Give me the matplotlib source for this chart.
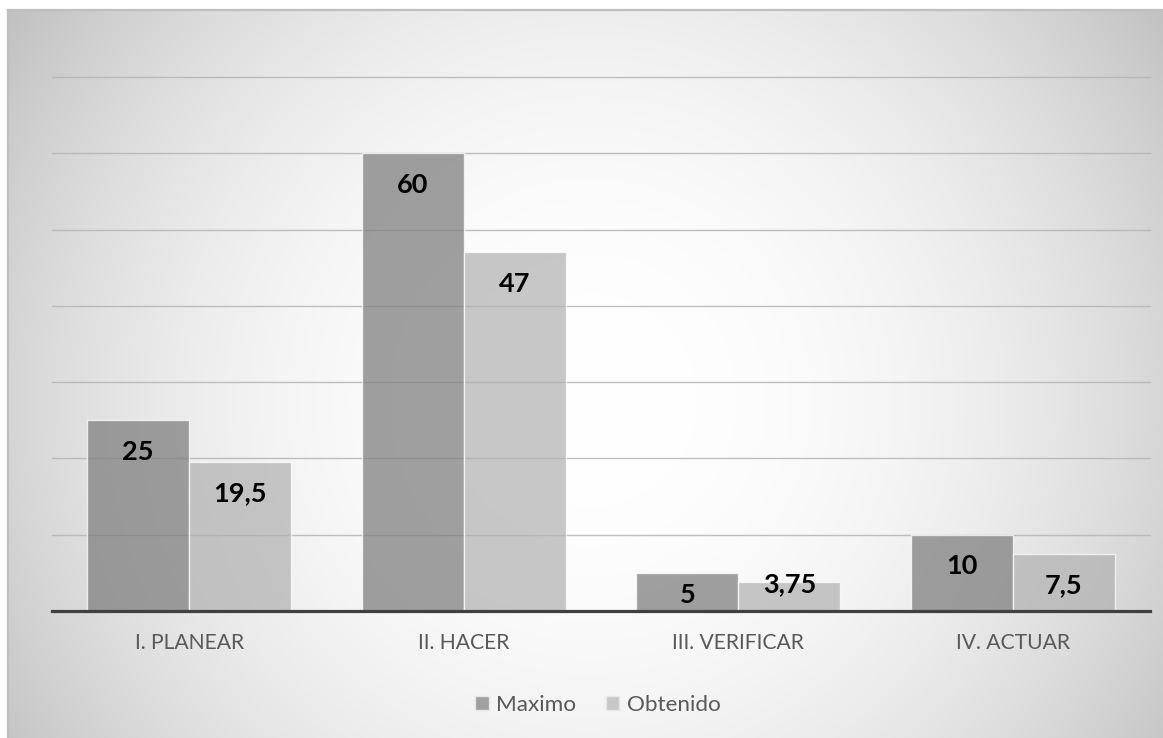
import numpy as np
import matplotlib.pyplot as plt
from matplotlib.patches import Patch

W, H = 1163, 738

categories = ["I. PLANEAR", "II. HACER", "III. VERIFICAR", "IV. ACTUAR"]
maximo = [25, 60, 5, 10]
obtenido = [19.5, 47, 3.75, 7.5]
maximo_labels = ["25", "60", "5", "10"]
obtenido_labels = ["19,5", "47", "3,75", "7,5"]
grid_ticks = [10, 20, 30, 40, 50, 60, 70]

TEXT = "#595959"
MAX_FILL = "#808080"
OBT_FILL = "#b0b0b0"

plt.rcParams["font.family"] = ["Lato", "DejaVu Sans"]

fig = plt.figure(figsize=(W / 100, H / 100), dpi=100)
fig.patch.set_facecolor("white")

# chart area: radial gradient, white in the middle, grey towards the corners
bg_left, bg_top = 8, 10
bg = fig.add_axes([bg_left / W, 0, 1 - bg_left / W, (H - bg_top) / H])
rows, cols = H - bg_top, W - bg_left
yy, xx = np.mgrid[0:rows, 0:cols]
dist = np.hypot(xx + bg_left - 590, yy + bg_top - 400) / 700.0
shade = np.clip(255 - 63 * dist ** 2.2, 185, 255) / 255.0
bg.imshow(np.dstack([shade] * 3), aspect="auto", interpolation="bilinear",
          extent=(0, cols, rows, 0))
bg.set_xticks([])
bg.set_yticks([])
for side in ("right", "bottom"):
    bg.spines[side].set_visible(False)
for side in ("top", "left"):
    bg.spines[side].set_color("#bfbfbf")
    bg.spines[side].set_linewidth(1.6)

ax = fig.add_axes([52 / W, (H - 611) / H, 1098 / W, 534 / H])
ax.set_facecolor("none")
ax.set_xlim(-0.5, len(categories) - 0.5)
ax.set_ylim(0, 70)

for t in grid_ticks:
    ax.axhline(t, color="#b4b4b4", lw=1.0, alpha=0.85, zorder=0, clip_on=False)

x = np.arange(len(categories))
bw = 0.372
bars_max = ax.bar(x - bw / 2, maximo, bw, color=MAX_FILL, alpha=0.75,
                  edgecolor=(1, 1, 1, 0.6), linewidth=1.0, zorder=2, label="Maximo")
bars_obt = ax.bar(x + bw / 2, obtenido, bw, color=OBT_FILL, alpha=0.7,
                  edgecolor=(1, 1, 1, 0.6), linewidth=1.0, zorder=2, label="Obtenido")


def label_y(v):
    # inside the top of the bar; short bars push the label up off the axis line
    y = v - 4.1
    if y >= 2.1:
        return y
    if v >= 4.6:
        return 2.1
    return v - 0.2


for bars, vals, texts in ((bars_max, maximo, maximo_labels),
                          (bars_obt, obtenido, obtenido_labels)):
    for b, v, s in zip(bars, vals, texts):
        ax.text(b.get_x() + b.get_width() / 2, label_y(v), s, ha="center",
                va="center", fontsize=19.5, fontweight="bold", color="black",
                zorder=4)

ax.set_xticks(x)
ax.set_xticklabels(categories, fontsize=15.2, color=TEXT)
ax.tick_params(axis="x", length=0, pad=16)
ax.set_yticks([])
for side in ("top", "left", "right"):
    ax.spines[side].set_visible(False)
ax.spines["bottom"].set_color("#404040")
ax.spines["bottom"].set_linewidth(2.3)
ax.spines["bottom"].set_zorder(3)

handles = [Patch(facecolor="#a0a0a0", edgecolor="#e6e6e6", lw=1.0),
           Patch(facecolor="#c8c8c8", edgecolor="#e6e6e6", lw=1.0)]
fig.legend(handles, ["Maximo", "Obtenido"], loc="center",
           bbox_to_anchor=(598 / W, 1 - 705 / H), ncol=2, frameon=False,
           fontsize=16.2, labelcolor=TEXT, handlelength=0.6, handleheight=0.6,
           handletextpad=0.35, columnspacing=1.3)

fig.savefig("out.png", dpi=100)
